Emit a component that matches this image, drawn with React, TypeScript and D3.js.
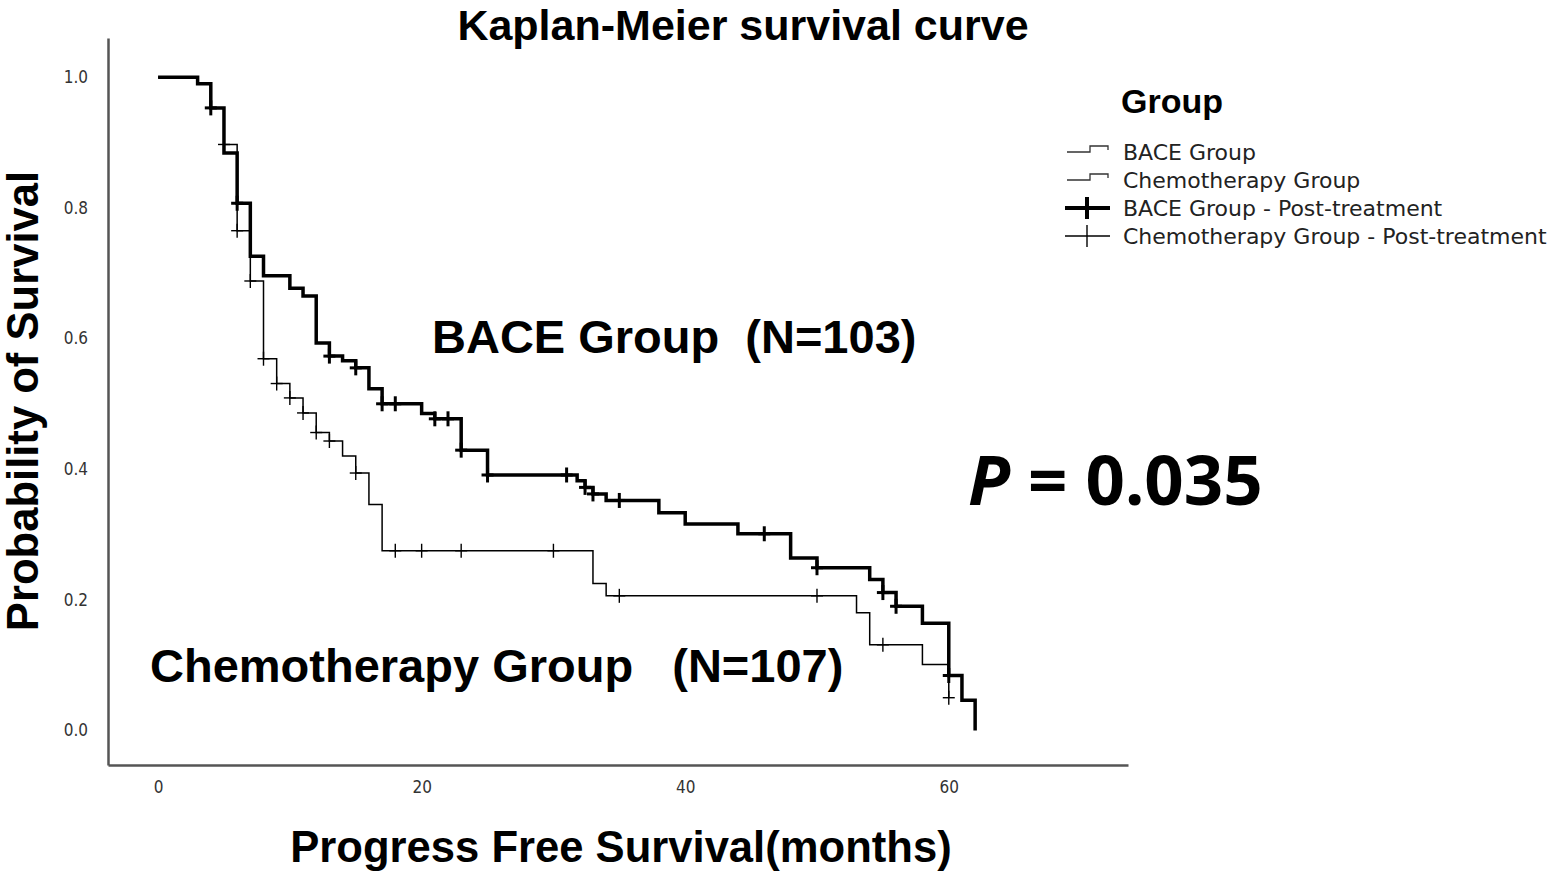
import { useEffect, useRef } from "react";
import * as d3 from "d3";

// step-change times (months) and survival after each step
const baceTimes = [0, 3, 4, 5, 6, 7, 8, 10, 11, 12, 13, 14, 15, 16, 17, 20, 21, 23, 25, 31.8, 32.4, 33, 34, 38, 40, 44, 48, 50, 54, 55, 56, 58, 60, 61, 62];
const baceSurv = [1, 0.99, 0.953, 0.884, 0.807, 0.726, 0.696, 0.677, 0.665, 0.593, 0.573, 0.566, 0.555, 0.523, 0.5, 0.485, 0.477, 0.429, 0.391, 0.382, 0.372, 0.362, 0.352, 0.333, 0.316, 0.301, 0.264, 0.249, 0.231, 0.211, 0.19, 0.164, 0.084, 0.046, 0];
const baceCensored = [4, 6, 13, 15, 17, 18, 21, 22, 23, 25, 31, 32.4, 33, 35, 46, 50, 55, 56, 60];

const chemoTimes = [0, 3, 4, 5, 6, 7, 8, 9, 10, 11, 12, 13, 14, 15, 16, 17, 33, 34, 53, 54, 58, 60];
const chemoSurv = [1, 0.99, 0.953, 0.897, 0.765, 0.688, 0.569, 0.531, 0.509, 0.486, 0.456, 0.443, 0.42, 0.394, 0.346, 0.275, 0.225, 0.206, 0.18, 0.131, 0.101, 0.05];
const chemoCensored = [5, 6, 7, 8, 9, 10, 11, 12, 13, 15, 18, 20, 23, 30, 35, 50, 55, 60];

const xTicks = [0, 20, 40, 60];
const yTicks = [0, 0.2, 0.4, 0.6, 0.8, 1.0];
const legendLabels = ["BACE Group", "Chemotherapy Group", "BACE Group - Post-treatment", "Chemotherapy Group - Post-treatment"];

const BOLD = "'Liberation Sans', Arial, sans-serif";
const NARROW = "'Liberation Sans Narrow', 'Arial Narrow', 'DejaVu Sans Condensed', sans-serif";
const LEGEND = "'DejaVu Sans', sans-serif";
const PFONT = "'Noto Sans', 'Open Sans', sans-serif";

function survAt(times: number[], surv: number[], t: number) {
  return surv[d3.bisectRight(times, t) - 1];
}

export default function App() {
  const svgRef = useRef<SVGSVGElement | null>(null);

  useEffect(() => {
    if (!svgRef.current) return;
    const svg = d3.select(svgRef.current);
    svg.selectAll("*").remove();

    const x = d3.scaleLinear().domain([-3.8, 73.6]).range([108, 1128]);
    const y = d3.scaleLinear().domain([-0.053, 1.06]).range([765, 38]);

    // title
    svg.append("text")
      .attr("x", 743).attr("y", 40)
      .attr("text-anchor", "middle")
      .style("font-family", BOLD).style("font-weight", "bold").style("font-size", "43px")
      .text("Kaplan-Meier survival curve");

    // axes
    const xAxis = svg.append("g")
      .attr("transform", "translate(0,765)")
      .call(d3.axisBottom(x).tickValues(xTicks).tickSize(0).tickPadding(16));
    const yAxis = svg.append("g")
      .attr("transform", "translate(108,0)")
      .call(d3.axisLeft(y).tickValues(yTicks).tickSize(0).tickPadding(20).tickFormat(d3.format(".1f")));

    [xAxis, yAxis].forEach((a) => {
      a.select(".domain").attr("stroke", "#555").attr("stroke-width", 2.5);
      a.selectAll("text")
        .attr("fill", "#333")
        .style("font-family", NARROW)
        .style("font-size", "17px");
    });

    svg.append("text")
      .attr("x", 621).attr("y", 862)
      .attr("text-anchor", "middle")
      .style("font-family", BOLD).style("font-weight", "bold").style("font-size", "43.6px")
      .text("Progress Free Survival(months)");

    svg.append("text")
      .attr("transform", "translate(38,401) rotate(-90)")
      .attr("text-anchor", "middle")
      .style("font-family", BOLD).style("font-weight", "bold").style("font-size", "43.6px")
      .text("Probability of Survival");

    const line = d3.line<[number, number]>()
      .x((d) => x(d[0]))
      .y((d) => y(d[1]))
      .curve(d3.curveStepAfter);

    const groups = [
      { times: chemoTimes, surv: chemoSurv, cens: chemoCensored, w: 1.5, cw: 1.4, half: 7 },
      { times: baceTimes, surv: baceSurv, cens: baceCensored, w: 3.5, cw: 3, half: 7.5 },
    ];

    groups.forEach((g) => {
      const pts = g.times.map((t, i) => [t, g.surv[i]] as [number, number]);
      svg.append("path")
        .attr("d", line(pts)!)
        .attr("fill", "none")
        .attr("stroke", "#000")
        .attr("stroke-width", g.w);

      const marks = svg.append("g");
      g.cens.forEach((t) => {
        const cx = x(t);
        const cy = y(survAt(g.times, g.surv, t));
        marks.append("line")
          .attr("x1", cx).attr("x2", cx)
          .attr("y1", cy - g.half).attr("y2", cy + g.half)
          .attr("stroke", "#000").attr("stroke-width", g.cw);
        marks.append("line")
          .attr("x1", cx - 6).attr("x2", cx + 6)
          .attr("y1", cy).attr("y2", cy)
          .attr("stroke", "#000").attr("stroke-width", g.cw);
      });
    });

    // annotations
    svg.append("text")
      .attr("x", 432).attr("y", 353)
      .style("font-family", BOLD).style("font-weight", "bold").style("font-size", "47px")
      .style("white-space", "pre")
      .text("BACE Group  (N=103)");

    svg.append("text")
      .attr("x", 150).attr("y", 682)
      .style("font-family", BOLD).style("font-weight", "bold").style("font-size", "47px")
      .style("white-space", "pre")
      .text("Chemotherapy Group   (N=107)");

    const p = svg.append("text")
      .attr("x", 968).attr("y", 505)
      .style("font-family", PFONT).style("font-weight", "bold").style("font-size", "69px")
      .style("white-space", "pre");
    p.append("tspan").style("font-style", "italic").text("P");
    p.append("tspan").text(" = 0.035");

    // legend
    const leg = svg.append("g");
    leg.append("text")
      .attr("x", 1121).attr("y", 113)
      .style("font-family", BOLD).style("font-weight", "bold").style("font-size", "34px")
      .text("Group");

    legendLabels.forEach((label, i) => {
      const cy = 152 + i * 28;
      if (i < 2) {
        leg.append("path")
          .attr("d", `M1067,${cy} H1090 V${cy - 6} H1108 V${cy - 2}`)
          .attr("fill", "none").attr("stroke", "#333").attr("stroke-width", 1.3);
      } else {
        const w = i === 2 ? 4 : 1.4;
        leg.append("line")
          .attr("x1", 1065).attr("x2", 1110).attr("y1", cy).attr("y2", cy)
          .attr("stroke", "#000").attr("stroke-width", w);
        leg.append("line")
          .attr("x1", 1087).attr("x2", 1087).attr("y1", cy - 11).attr("y2", cy + 11)
          .attr("stroke", "#000").attr("stroke-width", w);
      }
      leg.append("text")
        .attr("x", 1123).attr("y", cy + 8)
        .attr("fill", "#222")
        .style("font-family", LEGEND).style("font-size", "22px")
        .text(label);
    });
  }, []);

  return (
    <svg
      ref={svgRef}
      width={1559}
      height={879}
      style={{ position: "absolute", left: 0, top: 0, background: "#fff" }}
    />
  );
}
